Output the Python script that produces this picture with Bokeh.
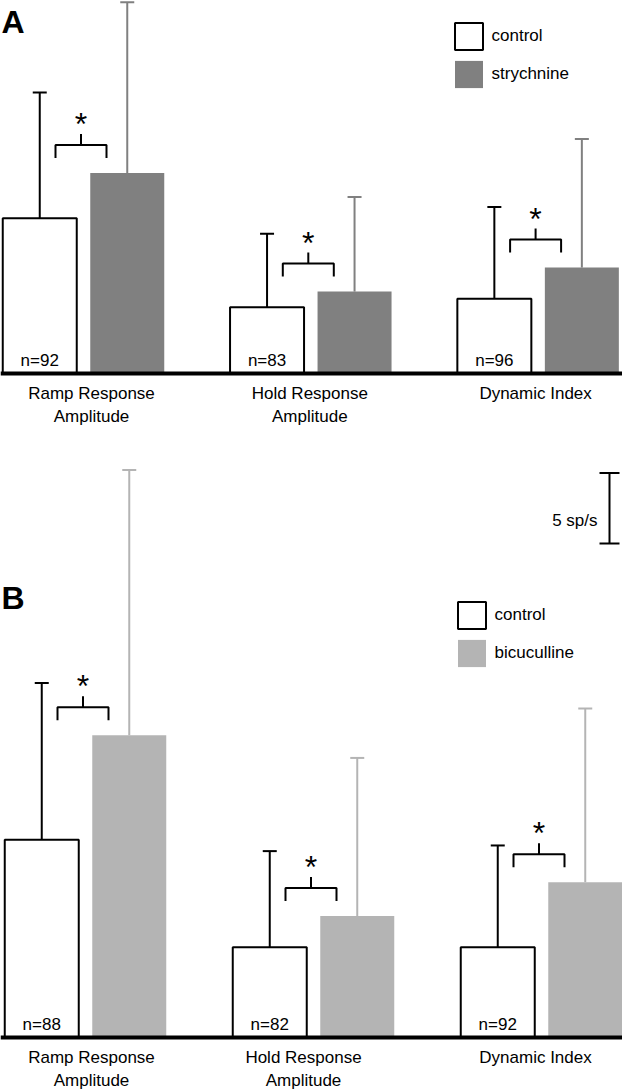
from bokeh.plotting import figure
from bokeh.models import Range1d, Span, Legend, LegendItem, Label
from bokeh.layouts import column
from bokeh.embed import file_html
from bokeh.resources import INLINE
from bokeh.core.properties import value

# ---------------- data (sp/s) ----------------
categories = ["Ramp Response\nAmplitude", "Hold Response\nAmplitude", "Dynamic Index"]

a_control_mean = [11.0, 4.7, 5.3]
a_control_sd = [8.9, 5.2, 6.5]
a_control_n = ["n=92", "n=83", "n=96"]
a_strych_mean = [14.2, 5.8, 7.5]
a_strych_sd = [12.1, 6.7, 9.1]
a_significant = [True, True, True]

b_control_mean = [14.0, 6.4, 6.4]
b_control_sd = [11.1, 6.8, 7.2]
b_control_n = ["n=88", "n=82", "n=92"]
b_bicuc_mean = [21.4, 8.6, 11.0]
b_bicuc_sd = [18.8, 11.2, 12.3]
b_significant = [True, True, True]

scale_bar_value = 5  # sp/s

# ---------------- styling / layout ----------------
FONT = "Liberation Sans"
K = 14.12          # px per sp/s
W = 622


def make_panel(letter, treat_label, c_mean, c_sd, n_lab, t_mean, t_sd, sig, t_color,
               x0_ref, spacing_ref, y0_ref, ref_top, ref_bot,
               legend_left_ref, legend_bottom_ref, label_off_ref, letter_y_ref,
               scale_bar=False):
    u = 1.0 / spacing_ref
    height = ref_bot - ref_top
    p = figure(width=W, height=height,
               x_range=Range1d(-x0_ref * u, (W - x0_ref) * u),
               y_range=Range1d((y0_ref - ref_bot) / K, (y0_ref - ref_top) / K),
               x_axis_type=None, y_axis_type=None, output_backend="svg",
               toolbar_location=None, min_border=0, outline_line_color=None)
    idx = list(range(len(categories)))
    off = 43.75 * u
    bw = 74 * u
    cap = 7 * u
    xc = [i - off for i in idx]
    xt = [i + off for i in idx]
    c_top = [m + s for m, s in zip(c_mean, c_sd)]
    t_top = [m + s for m, s in zip(t_mean, t_sd)]

    ctrl = p.vbar(x=xc, top=c_mean, bottom=0, width=bw, fill_color="white",
                  line_color="black", line_width=2)
    treat = p.vbar(x=xt, top=t_mean, bottom=0, width=bw, fill_color=t_color,
                   line_color=None)

    # error bars (upper only)
    p.segment(x0=xc, y0=c_mean, x1=xc, y1=c_top, line_color="black", line_width=2)
    p.segment(x0=[x - cap for x in xc], y0=c_top, x1=[x + cap for x in xc], y1=c_top,
              line_color="black", line_width=2)
    p.segment(x0=xt, y0=t_mean, x1=xt, y1=t_top, line_color=t_color, line_width=2)
    p.segment(x0=[x - cap for x in xt], y0=t_top, x1=[x + cap for x in xt], y1=t_top,
              line_color=t_color, line_width=2)

    p.add_layout(Span(location=0, dimension="width", line_color="black", line_width=4))

    # n labels
    p.text(x=xc, y=[0.9] * 3, text=n_lab, text_align="center", text_baseline="middle",
           text_font=value(FONT), text_font_size=value("17px"), text_color="black")

    # category labels
    p.text(x=[i + o * u for i, o in zip(idx, label_off_ref)], y=[-0.74] * 3,
           text=categories, text_align="center", text_baseline="top",
           text_font=value(FONT), text_font_size=value("17px"), text_color="black",
           text_line_height=1.2)

    # significance brackets
    bx, by, sx_, sy_ = [], [], [], []
    tx0, ty0, ty1 = [], [], []
    for i, s in enumerate(sig):
        if not s:
            continue
        xl = i - 28 * u
        xr = i + 23 * u
        xm = i - 2.5 * u
        yb = t_mean[i] + 15 / K
        yt = t_mean[i] + 28 / K
        bx.append([xl, xl, xr, xr])
        by.append([yb, yt, yt, yb])
        tx0.append(xm)
        ty0.append(yt)
        ty1.append(t_mean[i] + 39 / K)
        sx_.append(xm)
        sy_.append(t_mean[i] + 49 / K)
    p.multi_line(xs=bx, ys=by, line_color="black", line_width=2)
    p.segment(x0=tx0, y0=ty0, x1=tx0, y1=ty1, line_color="black", line_width=2)
    p.text(x=sx_, y=sy_, text=["*"] * len(sx_), text_align="center",
           text_baseline="middle", text_font=value(FONT),
           text_font_size=value("32px"), text_color="black")

    # panel letter
    p.add_layout(Label(x=(1 - x0_ref) * u, y=(y0_ref - letter_y_ref) / K, text=letter,
                       text_align="left", text_baseline="middle", text_font=FONT,
                       text_font_size="32px", text_font_style="bold",
                       text_color="black"))

    legend = Legend(items=[LegendItem(label="control", renderers=[ctrl]),
                           LegendItem(label=treat_label, renderers=[treat])],
                    location=(legend_left_ref - 3.5,
                              height - (legend_bottom_ref + 3.4 - ref_top)),
                    orientation="vertical", glyph_width=35, glyph_height=34,
                    label_height=34, spacing=4, padding=0, margin=0,
                    label_standoff=6, border_line_color=None,
                    background_fill_alpha=0, label_text_font=FONT,
                    label_text_font_size="17px", label_text_color="black")
    p.add_layout(legend)

    if scale_bar:
        xb = (609 - x0_ref) * u
        yb0 = (y0_ref - 543) / K
        yb1 = yb0 + scale_bar_value
        hw = 10 * u
        p.segment(x0=[xb, xb - hw, xb - hw], y0=[yb0, yb0, yb1],
                  x1=[xb, xb + hw, xb + hw], y1=[yb1, yb0, yb1],
                  line_color="black", line_width=2)
        p.text(x=[(597 - x0_ref) * u], y=[yb0 + 1.6],
               text=["%d sp/s" % scale_bar_value], text_align="right",
               text_baseline="middle", text_font=value(FONT),
               text_font_size=value("17px"), text_color="black")
    return p


pA = make_panel("A", "strychnine", a_control_mean, a_control_sd, a_control_n,
                a_strych_mean, a_strych_sd, a_significant, "#808080",
                x0_ref=83, spacing_ref=227.3, y0_ref=373, ref_top=0, ref_bot=450,
                legend_left_ref=454, legend_bottom_ref=88,
                label_off_ref=[8, -1, -2.5], letter_y_ref=21)

pB = make_panel("B", "bicuculline", b_control_mean, b_control_sd, b_control_n,
                b_bicuc_mean, b_bicuc_sd, b_significant, "#b4b4b4",
                x0_ref=85, spacing_ref=228, y0_ref=1037, ref_top=450, ref_bot=1089,
                legend_left_ref=457, legend_bottom_ref=667,
                label_off_ref=[6, -10, -6], letter_y_ref=597, scale_bar=True)

layout = column(pA, pB, spacing=0)
open("out.html", "w").write(file_html(layout, INLINE))
